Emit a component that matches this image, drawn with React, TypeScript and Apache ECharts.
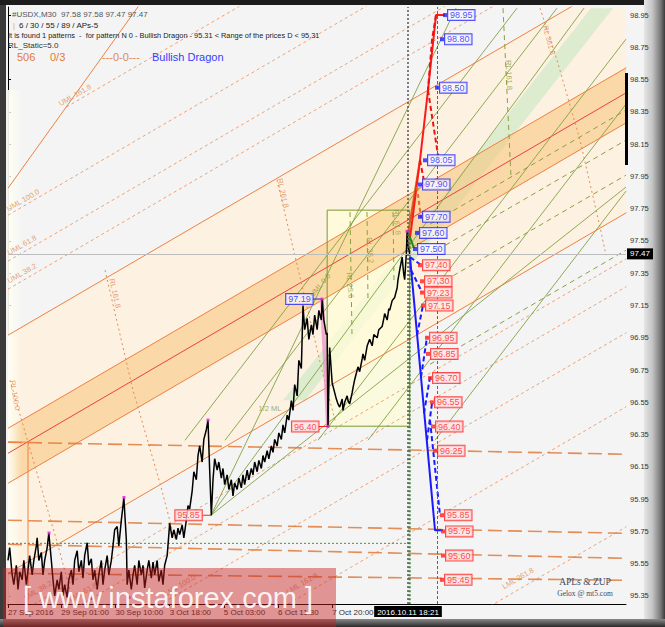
import React, { useEffect, useRef } from "react";
import * as echarts from "echarts";

const FONT = '"Liberation Sans", Arial, sans-serif';

// ---- axes ----
const xTickBars = [0, 64, 129, 194, 259, 324, 389];
const xTickLabels = ["27 Sep 2016", "29 Sep 01:00", "30 Sep 10:00", "3 Oct 18:00", "5 Oct 03:00", "6 Oct 11:30", "7 Oct 20:00"];
const yTickValues = [95.35, 95.55, 95.75, 95.95, 96.15, 96.35, 96.55, 96.75, 96.95, 97.15, 97.35, 97.55, 97.75, 97.95, 98.15, 98.35, 98.55, 98.75, 98.95];
const lastPrice = 97.47;
const cursorBar = 480;
const cursorTime = "2016.10.11 18:21";
const futureBar = 515;

// ---- price (bar index, close) ----
const pricePath = [
  [0, 95.57], [2, 95.65], [5, 95.48], [7, 95.42], [10, 95.54], [12, 95.39], [14, 95.5], [17, 95.45], [19, 95.57], [22, 95.42],
  [24, 95.51], [26, 95.6], [29, 95.48], [31, 95.57], [34, 95.66], [35, 95.71], [37, 95.57], [40, 95.62], [42, 95.48], [44, 95.57],
  [47, 95.65], [49, 95.74], [52, 95.57], [54, 95.45], [56, 95.35], [59, 95.45], [61, 95.39], [64, 95.5], [66, 95.35], [68, 95.42],
  [71, 95.34], [73, 95.45], [76, 95.51], [78, 95.42], [80, 95.57], [83, 95.63], [85, 95.5], [88, 95.57], [90, 95.46], [92, 95.6],
  [95, 95.68], [97, 95.54], [100, 95.58], [102, 95.45], [104, 95.51], [107, 95.39], [109, 95.48], [112, 95.57], [114, 95.42], [116, 95.51],
  [119, 95.6], [121, 95.48], [124, 95.57], [126, 95.66], [128, 95.76], [131, 95.78], [133, 95.66], [136, 95.82], [138, 95.91], [139, 95.96],
  [142, 95.7], [143, 95.42], [145, 95.51], [148, 95.39], [150, 95.48], [152, 95.54], [155, 95.42], [157, 95.57], [160, 95.48], [162, 95.54],
  [164, 95.4], [167, 95.51], [169, 95.57], [172, 95.46], [174, 95.56], [176, 95.48], [179, 95.57], [181, 95.44], [184, 95.51], [186, 95.42],
  [188, 95.54], [191, 95.6], [193, 95.73], [194, 95.8], [197, 95.71], [199, 95.76], [202, 95.7], [204, 95.77], [206, 95.73], [209, 95.79],
  [211, 95.71], [214, 95.82], [216, 95.91], [218, 95.89], [221, 96.0], [223, 96.12], [226, 96.07], [228, 96.22], [230, 96.28], [233, 96.18],
  [235, 96.32], [238, 96.38], [240, 96.44], [242, 96.13], [244, 95.85], [246, 96.07], [248, 96.2], [251, 96.13], [253, 96.18], [256, 96.08],
  [258, 96.14], [260, 96.04], [263, 96.1], [265, 96.01], [268, 96.07], [270, 95.97], [272, 96.05], [275, 96.01], [277, 96.08], [280, 96.02],
  [282, 96.1], [284, 96.04], [287, 96.13], [289, 96.07], [292, 96.14], [294, 96.1], [296, 96.18], [299, 96.12], [301, 96.19], [304, 96.14],
  [306, 96.22], [308, 96.18], [311, 96.25], [313, 96.2], [316, 96.28], [318, 96.24], [320, 96.32], [323, 96.28], [325, 96.36], [328, 96.32],
  [330, 96.41], [332, 96.36], [335, 96.47], [337, 96.44], [340, 96.56], [342, 96.5], [344, 96.66], [347, 96.59], [349, 96.81], [352, 96.76],
  [354, 97.15], [356, 97.0], [359, 97.07], [361, 96.94], [364, 97.03], [366, 96.97], [368, 97.09], [371, 97.0], [373, 97.12], [376, 97.06],
  [377, 97.19], [379, 97.06], [382, 96.97], [383, 96.98], [384, 96.4], [386, 96.89], [389, 96.67], [391, 96.63], [394, 96.57], [396, 96.54],
  [398, 96.52], [401, 96.57], [402, 96.5], [404, 96.55], [407, 96.59], [408, 96.56], [410, 96.54], [413, 96.61], [414, 96.64], [416, 96.69],
  [419, 96.75], [420, 96.77], [422, 96.74], [425, 96.82], [426, 96.85], [428, 96.81], [431, 96.9], [434, 96.94], [437, 96.9], [439, 96.97],
  [443, 96.95], [445, 97.0], [449, 97.02], [451, 97.07], [452, 97.1], [455, 97.06], [457, 97.13], [458, 97.12], [461, 97.18], [464, 97.2],
  [467, 97.26], [468, 97.31], [470, 97.37], [473, 97.45], [474, 97.39], [475, 97.34], [476, 97.31], [478, 97.47], [479, 97.61], [480, 97.52],
  [482, 97.47],
];

// ---- pivots ----
const pivotBars = [49.2, 99.6, 139.2, 145.2, 240, 376.8, 384, 478.8];
const pivotVals = [95.74, 95.335, 95.96, 95.34, 96.44, 97.19, 96.4, 97.61];

// ---- channel ----
const chanUpper = [[0, 96.966], [742, 99.201]];
const bandUpper = [[0, 96.389], [742, 98.624]];
const chanMedian = [[0, 96.234], [742, 98.469]];
const bandLower = [[0, 96.048], [742, 98.283]];
const chanLower = [[0, 95.49], [742, 97.725]];
const uml382 = [[0, 97.251], [742, 99.486]];
const uml618 = [[0, 97.425], [742, 99.66]];
const uml1000 = [[0, 97.71], [742, 99.945]];
const uml1618 = [[70, 98.38], [742, 100.4]];
const umlSteep = [[0, 97.877], [160, 99.03]];
const lml382 = [[0, 95.205], [742, 97.44]];
const lml618 = [[0, 95.032], [742, 97.267]];
const lml1000 = [[0, 94.747], [742, 96.982]];
const lml1618 = [[0, 94.288], [742, 96.523]];
const lml2618 = [[0, 93.544], [742, 95.779]];

// ---- horizontal levels ----
const hLevel1 = [[0, 96.303], [742, 96.228]];
const hLevel2 = [[0, 95.819], [742, 95.738]];
const hLevel3 = [[0, 95.67], [742, 95.583]];
const hLevel4 = [[0, 95.49], [742, 95.447]];
const baseCorner = [[0, 96.303], [24, 96.303], [24, 95.3]];
const greenLevel = [[0, 95.676], [482, 95.676]];
const greenCursor = [[482, 97.617], [482, 95.3]];

// ---- RL curves ----
const rl100 = [[2.4, 96.687], [24, 96.303], [60, 95.664], [74.4, 95.385]];
const rl1618 = [[116.4, 97.369], [150, 96.625], [182.4, 96.048], [200.4, 95.695]];
const rl2618 = [[322.8, 97.927], [350.4, 97.326], [376.8, 96.749], [392.4, 96.439]];
const rl3618 = [[638.4, 98.993], [658.8, 98.671], [686.4, 98.175], [710.4, 97.636], [717.6, 97.462]];
const gv1 = [[410.4, 97.729], [412.8, 96.966]];
const gv2 = [[430.8, 97.729], [432, 97.183]];
const gv3 = [[462, 97.729], [463.2, 97.307]];
const gv4 = [[594, 98.993], [603.6, 97.946]];

// ---- green fan / parallels ----
const fan1 = [[243.6, 95.85], [537.6, 98.993]];
const fan2 = [[243.6, 95.85], [691.2, 98.993]];
const fan3 = [[243.6, 95.85], [741.6, 97.884]];
const par1 = [[212.4, 96.315], [610.8, 98.993]];
const par2 = [[260.4, 96.315], [658.8, 98.993]];
const par3 = [[372, 96.315], [741.6, 98.801]];
const par4 = [[432, 96.315], [741.6, 98.398]];
const par5 = [[512.4, 96.315], [741.6, 97.859]];
const gd1 = [[506.4, 97.654], [741.6, 98.361]];
const gd2 = [[506.4, 97.468], [741.6, 98.175]];
const gd3 = [[506.4, 97.251], [741.6, 97.958]];
const gd4 = [[506.4, 96.786], [741.6, 97.493]];
const boxRect = [[383, 97.741], [482, 97.741], [482, 96.402], [383, 96.402], [383, 97.741]];

// ---- projections ----
const projRedSolid = [[482.4, 97.567], [494.4, 98.051], [504, 98.485], [513.6, 98.95], [524.4, 98.95]];
const projBrown = [[478.8, 97.555], [494.4, 98.051]];
const projRedDash1 = [[513.6, 98.95], [508.8, 98.795], [504, 98.485]];
const projRedDash2 = [[504, 98.485], [516, 98.082]];
const projRedDash3 = [[494.4, 98.051], [500.4, 97.89]];
const projOrangeDash = [[490.8, 97.884], [495.6, 97.691]];
const projGreen = [[480, 97.605], [487.2, 97.506]];
const projBlueSolid = [[482.4, 97.45], [512.4, 95.757], [522, 95.757]];
const blueDashA = [[482.4, 97.45], [494.4, 97.406]];
const blueDashB = [[483.6, 97.369], [496.8, 97.233]];
const blueDashC = [[490.8, 96.966], [498, 97.152]];
const blueDashD = [[495.6, 96.706], [502.8, 96.954]];
const blueDashE = [[499.2, 96.482], [506.4, 96.706]];
const blueDashF = [[502.8, 96.315], [508.8, 96.544]];
const blueDashG = [[506.4, 96.439], [518.4, 95.85]];
const pinkLink = [[376.8, 97.19], [384, 96.4]];
const leftTick1 = [[366, 97.19], [377, 97.19]];
const leftTick2 = [[372, 96.4], [384, 96.4]];
const leftTick3 = [[234, 95.85], [244, 95.85]];

// ---- level boxes ----
const projLevels = [98.95, 98.8, 98.5, 98.05, 97.9, 97.7, 97.6, 97.5, 97.4, 97.3, 97.23, 97.15, 96.95, 96.85, 96.7, 96.55, 96.4, 96.25, 95.85, 95.75, 95.6, 95.45];
const projBars = [524.4, 520.8, 514.8, 500.4, 494.4, 494.4, 490.8, 488.4, 494.4, 496.8, 496.8, 498, 502.8, 504, 506.4, 508.8, 510, 512.4, 520.8, 522, 522, 520.8];
const projBlueCount = 8;
const leftLevels = [97.19, 96.4, 95.85];
const leftBars = [377, 384, 244];

// ---- bands ----
const peachChannel = [[0, 96.966], [742, 99.201], [742, 97.725], [0, 95.49]];
const greenBand = [[330, 96.563], [699.6, 98.993], [726, 98.993], [356.4, 96.563]];
const boxFill = [[383, 97.741], [482, 97.741], [482, 96.402], [383, 96.402]];
const darkBand = [[0, 96.389], [742, 98.624], [742, 98.283], [0, 96.048]];

// ---- annotations ----
const annoTexts = ["UML 100.0", "UML 61.8", "UML 38.2", "UML 161.8", "RL 161.8", "RL 261.8", "RL 100.0", "LML 38.2", "LML 61.8", "LML 100.0", "LML 161.8", "LML 261.8", "RL 361.8"];
const annoPoints = [[18, 97.803], [16.8, 97.524], [16.8, 97.35], [80.4, 98.454], [128.4, 97.226], [330, 97.846], [8.4, 96.594], [36, 95.385], [90, 95.373], [206.4, 95.416], [352.8, 95.428], [612, 95.459], [649.2, 98.795]];
const annoAngles = [30, 30, 30, 30, -77, -77, -80, 30, 30, 30, 30, 30, -75];
const greenAnnoTexts = ["1/2 ML", "RL 61.8", "RL 38.2", "RL 23.6", "UML 0.0", "RL 161.8"];
const greenAnnoPoints = [[314.4, 96.513], [466.8, 97.667], [434.4, 97.493], [410.4, 97.276], [374.4, 97.276], [601.2, 98.578]];
const greenAnnoAngles = [0, -85, -85, -85, 50, -87];

const headerLines = [
  "#USDX,M30  97.58 97.58 97.47 97.47",
  "6 / 30 / 55 / 89 / APs-5",
  "It is found 1 patterns  -  for pattern N 0 - Bullish Dragon - 95.31 < Range of the prices D < 95.31",
  "RL_Static=5.0",
];
const statusTexts = ["506", "0/3", "---0-0---", "Bullish Dragon"];

// ---- styles ----
const ORANGE = "#f08040";
const styleOrange = { color: ORANGE, width: 1 };
const styleMedian = { color: "#ee4040", width: 1 };
const styleFibo = { color: "#efa070", width: 1, type: [3, 3] };
const styleRL = { color: "#e08c55", width: 1, type: [2, 3] };
const styleH = { color: "#e07a3a", width: 1.6, type: [14, 6], opacity: 0.85 };
const styleGreen = { color: "#82a244", width: 1, opacity: 0.9 };
const styleGreenDash = { color: "#8aa040", width: 1, type: [5, 4] };
const styleBlue = { color: "#1a1aff", width: 2 };
const styleBlueDash = { color: "#1a1aff", width: 2, type: [5, 3] };
const styleRed = { color: "#ff1a1a", width: 2 };
const styleRedDash = { color: "#ee1111", width: 2, type: [5, 3] };

const lineDefs: any[] = [
  [chanUpper, styleOrange], [bandUpper, styleOrange], [chanMedian, styleMedian], [bandLower, styleOrange], [chanLower, styleOrange],
  [uml382, styleFibo], [uml618, styleFibo], [uml1000, styleFibo], [uml1618, styleFibo], [umlSteep, styleOrange],
  [lml382, styleFibo], [lml618, styleFibo], [lml1000, styleFibo], [lml1618, styleFibo], [lml2618, styleFibo],
  [hLevel1, styleH], [hLevel2, styleH], [hLevel3, styleH], [hLevel4, styleH], [baseCorner, styleOrange],
  [greenLevel, { color: "#2ea02e", width: 1, type: [2, 2] }],
  [rl100, styleRL], [rl1618, styleRL], [rl2618, styleRL], [rl3618, styleRL],
  [gv1, styleGreenDash], [gv2, styleGreenDash], [gv3, styleGreenDash], [gv4, styleGreenDash],
  [fan1, styleGreen], [fan2, styleGreen], [fan3, styleGreen], [par1, styleGreen], [par2, styleGreen], [par3, styleGreen], [par4, styleGreen], [par5, styleGreen],
  [gd1, styleGreenDash], [gd2, styleGreenDash], [gd3, styleGreenDash], [gd4, styleGreenDash],
  [boxRect, { color: "#7a9a2a", width: 1 }],
  [pinkLink, { color: "rgba(240,140,200,0.7)", width: 4 }],
  [greenCursor, { color: "#2a8a2a", width: 2, type: [2, 2] }],
  [projBrown, { color: "#c8641e", width: 2 }],
  [projRedSolid, styleRed], [projRedDash1, styleRedDash], [projRedDash2, styleRedDash], [projRedDash3, styleRedDash],
  [projOrangeDash, { color: "#e07020", width: 2, type: [4, 3] }],
  [projGreen, { color: "#1a8a1a", width: 2 }],
  [projBlueSolid, styleBlue], [blueDashA, styleBlueDash], [blueDashB, styleBlueDash], [blueDashC, styleBlueDash],
  [blueDashD, styleBlueDash], [blueDashE, styleBlueDash], [blueDashF, styleBlueDash], [blueDashG, styleBlueDash],
  [leftTick1, { color: "#1a1aff", width: 1 }], [leftTick2, { color: "#ff2020", width: 1 }], [leftTick3, { color: "#ff2020", width: 1 }],
];

const polyShapes = [peachChannel, greenBand, boxFill, darkBand];
const polyFills = ["#fdf1e2", "rgba(195,232,190,0.55)", "rgba(255,252,215,0.75)", "rgba(248,194,118,0.55)"];

const BLUE_BOX = { color: "#2020ff", borderColor: "#2020ff", backgroundColor: "rgba(248,250,255,0.92)" };
const RED_BOX = { color: "#ff2020", borderColor: "#ff2020", backgroundColor: "rgba(255,228,228,0.92)" };

function buildOption() {
  const series: any[] = [];
  series.push({
    type: "custom",
    coordinateSystem: "cartesian2d",
    clip: true,
    silent: true,
    z: 1,
    data: polyShapes.map((_, i) => [i, 97]),
    renderItem: (params: any, api: any) => {
      const pts = polyShapes[params.dataIndex].map((p) => api.coord(p));
      return { type: "polygon", shape: { points: pts }, style: { fill: polyFills[params.dataIndex] } };
    },
  });
  lineDefs.forEach(([data, style]) => {
    series.push({ type: "line", data, symbol: "none", silent: true, z: 2, lineStyle: style });
  });
  series.push({
    type: "line",
    data: pricePath,
    symbol: "none",
    silent: true,
    z: 4,
    lineStyle: { color: "#000", width: 1.5 },
    markLine: {
      silent: true,
      symbol: ["none", "none"],
      data: [
        {
          yAxis: lastPrice,
          lineStyle: { color: "#bdbdbd", width: 1, type: "solid" },
          label: { show: true, position: "end", formatter: lastPrice.toFixed(2), color: "#fff", backgroundColor: "#000", padding: [2, 3, 1, 3], fontSize: 8, distance: 1, fontFamily: FONT },
        },
        {
          xAxis: cursorBar,
          lineStyle: { color: "#555", width: 1.5, type: [2, 2] },
          label: { show: true, position: "start", formatter: cursorTime, color: "#fff", backgroundColor: "#000", padding: [2, 3, 1, 3], fontSize: 8, distance: 2, fontFamily: FONT },
        },
        {
          xAxis: futureBar,
          lineStyle: { color: "#9933cc", width: 1, type: [3, 2] },
          label: { show: false },
        },
      ],
    },
  });
  series.push({
    type: "scatter",
    silent: true,
    z: 5,
    symbol: "rect",
    symbolSize: 3,
    itemStyle: { color: "#e020e0" },
    data: pivotBars.map((b, i) => [b, pivotVals[i]]),
  });
  const boxLabel = (style: any, pos: string, dist: number) => ({
    show: true,
    position: pos,
    distance: dist,
    fontSize: 9,
    fontFamily: FONT,
    borderWidth: 1,
    padding: [1, 2, 0, 2],
    ...style,
  });
  series.push({
    type: "scatter",
    silent: true,
    z: 6,
    symbol: "rect",
    symbolSize: 4,
    data: projLevels.map((p, i) => {
      const st = i < projBlueCount ? BLUE_BOX : RED_BOX;
      return {
        value: [projBars[i], p],
        itemStyle: { color: st.color },
        label: { ...boxLabel(st, "right", 1), formatter: p.toFixed(2) },
      };
    }),
  });
  series.push({
    type: "scatter",
    silent: true,
    z: 6,
    symbolSize: 1,
    itemStyle: { color: "transparent" },
    data: leftLevels.map((p, i) => {
      const st = i === 0 ? BLUE_BOX : RED_BOX;
      return {
        value: [leftBars[i], p],
        label: { ...boxLabel(st, "left", 9), formatter: p.toFixed(2) },
      };
    }),
  });
  const annoSeries = (texts: string[], pts: number[][], angles: number[], color: string) => ({
    type: "scatter",
    silent: true,
    z: 6,
    symbolSize: 1,
    itemStyle: { color: "transparent" },
    data: texts.map((t, i) => ({
      value: pts[i],
      label: { show: true, position: "inside", formatter: t, rotate: angles[i], color, fontSize: 7.5, fontFamily: FONT },
    })),
  });
  series.push(annoSeries(annoTexts, annoPoints, annoAngles, "#e08a50"));
  series.push(annoSeries(greenAnnoTexts, greenAnnoPoints, greenAnnoAngles, "#8a9a3a"));

  const txt = (text: string, x: number, y: number, fill: string, size: number, extra: any = {}, z = 50) => ({
    type: "text",
    x,
    y,
    z,
    silent: true,
    style: { text, fill, font: `${size}px ${FONT}`, verticalAlign: "middle", ...extra },
  });

  return {
    animation: false,
    backgroundColor: "transparent",
    grid: { left: 8, right: 39, top: 7, bottom: 23 },
    xAxis: {
      type: "value",
      min: 0,
      max: 741.6,
      axisLine: { show: true, lineStyle: { color: "#000", width: 1 } },
      axisTick: { show: true, customValues: xTickBars, length: 4, lineStyle: { color: "#000" } },
      axisLabel: {
        show: true,
        customValues: xTickBars,
        formatter: (v: number) => {
          const i = xTickBars.indexOf(v);
          return i >= 0 ? xTickLabels[i] : "";
        },
        align: "left",
        fontSize: 8,
        color: "#333",
        fontFamily: FONT,
        margin: 4,
      },
      splitLine: { show: false },
    },
    yAxis: {
      type: "value",
      position: "right",
      min: 95.3,
      max: 99.0,
      axisLine: { show: true, lineStyle: { color: "#000", width: 1 } },
      axisTick: { show: true, customValues: yTickValues, length: 3, lineStyle: { color: "#000" } },
      axisLabel: {
        show: true,
        customValues: yTickValues,
        formatter: (v: number) => v.toFixed(2),
        fontSize: 7.5,
        color: "#333",
        fontFamily: FONT,
        margin: 4,
      },
      splitLine: { show: false },
    },
    series,
    graphic: [
      {
        type: "rect",
        z: 1.5,
        silent: true,
        shape: { x: 8, y: 90, width: 14, height: 514 },
        style: {
          fill: { type: "linear", x: 0, y: 0, x2: 1, y2: 0, colorStops: [{ offset: 0, color: "rgba(255,255,245,0.95)" }, { offset: 1, color: "rgba(255,255,245,0)" }] },
        },
      },
      { type: "rect", z: 50, silent: true, shape: { x: 625, y: 73, width: 3, height: 92 }, style: { fill: "#000" } },
      txt(headerLines[0], 12, 14, "#555", 8),
      txt("|", 13, 25, "#e8b800", 8),
      txt(headerLines[1], 19, 25, "#222", 8),
      txt(headerLines[2], 8, 35, "#222", 7.4),
      txt(headerLines[3], 8, 45, "#333", 8),
      txt(statusTexts[0], 17, 57, "#e07a3a", 11),
      txt(statusTexts[1], 50, 57, "#e07a3a", 11),
      txt(statusTexts[2], 102, 57, "#e08a50", 11),
      txt(statusTexts[3], 152, 57, "#3a3aff", 11),
      txt("APLs & ZUP", 585, 582, "#3b4b63", 9.5, { align: "center", font: '9.5px "Liberation Serif", serif' }),
      txt("Gelox @ mt5.com", 585, 593, "#3b4b63", 7.5, { align: "center", font: '7.5px "Liberation Serif", serif' }),
      { type: "rect", z: 100, silent: true, shape: { x: 3, y: 568, width: 333, height: 59 }, style: { fill: "rgba(200,30,30,0.45)" } },
      txt("[ www.instaforex.com ]", 168, 598, "rgba(255,255,255,0.9)", 29, { align: "center" }, 101),
    ],
  };
}

export default function App() {
  const ref = useRef<HTMLDivElement>(null);
  useEffect(() => {
    if (!ref.current) return;
    const chart = echarts.init(ref.current, null, { renderer: "svg" });
    chart.setOption(buildOption() as any);
    return () => chart.dispose();
  }, []);
  return (
    <div style={{ position: "fixed", left: 0, top: 0, width: 665, height: 627, background: "#3a3a3a", overflow: "hidden" }}>
      <div style={{ position: "absolute", left: 0, top: 0, width: 665, height: 5, background: "#1c1c1c" }} />
      <div style={{ position: "absolute", left: 6, top: 5, width: 638, height: 614, background: "#f4f4f4" }} />
      <div style={{ position: "absolute", left: 644, top: 0, width: 21, height: 627, background: "linear-gradient(to right,#e6e6e6,#c4c4c4 40%,#777 80%,#3a3a3a)" }} />
      <div style={{ position: "absolute", left: 0, top: 619, width: 665, height: 8, background: "linear-gradient(to bottom,#8a8a8a,#2a2a2a)" }} />
      <div ref={ref} style={{ position: "absolute", left: 0, top: 0, width: 665, height: 627 }} />
    </div>
  );
}
